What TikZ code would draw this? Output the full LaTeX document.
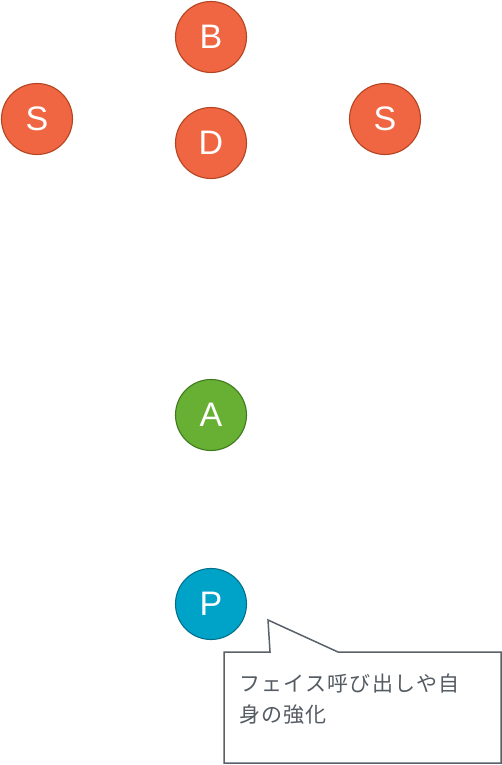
\documentclass[tikz,border=0pt]{standalone}
\usepackage{fontspec}
\setmainfont{Liberation Sans}
\newfontfamily\jpfont[LetterSpace=6]{Noto Sans CJK JP}
\definecolor{orfill}{HTML}{F06542}
\definecolor{ordraw}{HTML}{B4441F}
\definecolor{grfill}{HTML}{67B033}
\definecolor{grdraw}{HTML}{3E7A1D}
\definecolor{blfill}{HTML}{00A3C8}
\definecolor{bldraw}{HTML}{00708D}
\definecolor{callgray}{HTML}{5A6169}
\definecolor{txtgray}{HTML}{545B63}
\begin{document}
\begin{tikzpicture}[x=1pt,y=-1pt,
  ball/.style={circle,minimum size=71pt,inner sep=0pt,line width=1.1pt,text=white,font=\fontsize{34}{34}\selectfont},
  orball/.style={ball,fill=orfill,draw=ordraw},
  grball/.style={ball,fill=grfill,draw=grdraw},
  blball/.style={ball,fill=blfill,draw=bldraw},
  callout/.style={draw=callgray,line width=1.5pt,fill=white,line join=miter}]
\useasboundingbox (0,0) rectangle (502,765);
\node[orball] (B) at (211,37) {B};
\node[orball] (S1) at (37,119) {S};
\node[orball] (S2) at (385,119) {S};
\node[orball] (D) at (211,143) {D};
\node[grball] (A) at (211,415) {A};
\node[blball] (P) at (211,604) {P};
\draw[callout] (224,652) -- (270,652) -- (268,620) -- (338,652) -- (501,652) -- (501,763) -- (224,763) -- cycle;
\node[anchor=north west,inner sep=0pt,text=txtgray,align=left,font=\jpfont\fontsize{21}{31}\selectfont] (T) at (239,674) {フェイス呼び出しや自\\身の強化};
\end{tikzpicture}
\end{document}
